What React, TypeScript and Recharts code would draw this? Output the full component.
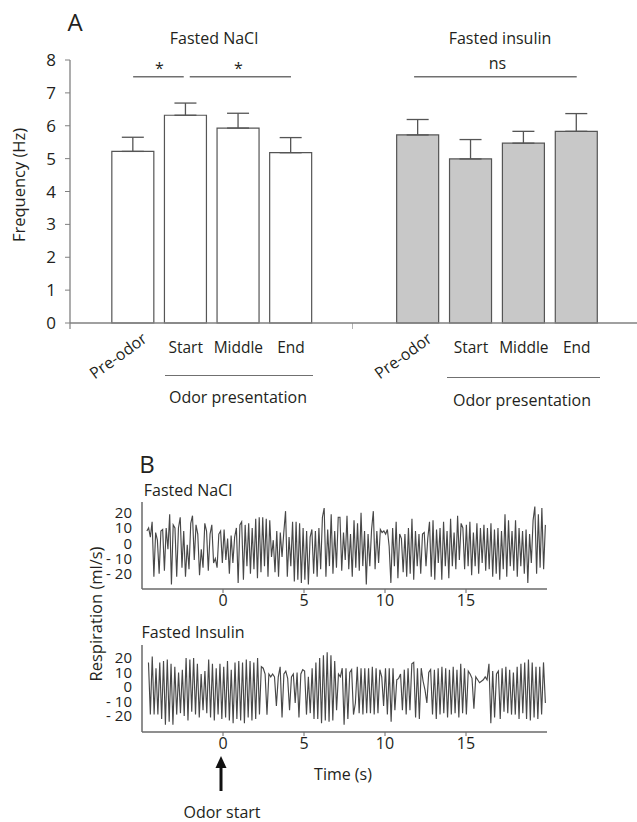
import React from "react"
import {
    BarChart,
    Bar,
    XAxis,
    YAxis,
    ErrorBar,
    ReferenceLine,
    LineChart,
    Line,
} from "recharts"

// panel A: breathing frequency per phase
const phases = ["Pre-odor", "Start", "Middle", "End"]
const naclMean = [5.22, 6.32, 5.93, 5.18]
const naclErr = [0.43, 0.37, 0.45, 0.46]
const insulinMean = [5.72, 4.99, 5.47, 5.83]
const insulinErr = [0.47, 0.59, 0.36, 0.54]
const freqTicks = [0, 1, 2, 3, 4, 5, 6, 7, 8]
const sigLevel = 7.49

// panel B: respiration traces (ml/s), read as successive peaks / troughs
const timeTicks = [0, 5, 10, 15]
const flowTicks = [20, 10, 0, -10, -20]
const naclSpan = [-4.7, 19.9]
const insulinSpan = [-4.6, 19.9]

const naclTrace = [
    8, 10, 4, 14, -22, 7, 2, -20, 8, 9,
    -18, 10, -4, 19, -27, 12, 10, -22, 10, 17,
    -16, 8, -22, -1, -17, 13, 18, -11, 12, 6,
    -21, -4, -16, 13, 8, -18, 6, 12, -13, -10,
    -16, 6, 8, -13, 9, -11, 3, -20, 5, -13,
    4, 10, -26, 12, 14, -24, 12, -15, 13, -20,
    10, -17, 16, -23, 17, -19, 17, -15, 16, -22,
    15, -9, 2, -19, 8, -22, 7, -9, 7, 21,
    -22, 4, -15, 14, -25, 14, -24, 13, -26, 10,
    -24, 8, -27, 4, 9, -20, 8, -22, 10, -17,
    17, 23, -22, 9, -15, 19, -20, 8, -16, 17,
    17, -18, 7, -11, 18, -17, 6, -22, 15, -16,
    13, -18, 20, -15, 8, -27, 6, -15, 9, 21,
    -17, 8, -13, 9, 7, 8, 6, 9, -2, -26,
    10, -15, 14, -23, 6, 3, -19, 6, -22, 10,
    -20, 16, -24, 8, -15, 6, -20, 6, 7, -15,
    3, 14, -22, 15, -24, 9, -13, 10, -24, 14,
    -15, 8, -23, 16, -15, 7, -17, 18, -11, 13,
    10, -17, 12, -15, 14, -21, 7, -15, 13, -20,
    10, -13, 12, -18, 10, -17, 13, -22, 9, -20,
    10, -24, 8, -17, 19, -22, 15, -15, 8, -18,
    15, -22, 10, -15, 8, -20, 9, -26, 6, -13,
    15, 24, -20, 19, -16, 23, -17, 12,
]

const insulinTrace = [
    17, -19, 21, -19, 13, -19, 17, -22, 18, -26,
    19, -24, 16, -26, 14, -19, 10, -18, 12, -20,
    20, -23, 19, -17, 20, -19, 16, -21, 9, -16,
    11, -18, 19, -21, 16, -23, 13, -19, 16, -22,
    14, -21, 18, -23, 12, -25, 17, -22, 18, -23,
    17, -25, 19, -21, 18, -23, 17, -22, 20, -19,
    14, 13, 9, -19, 9, 7, 9, 7, -13, 7,
    14, -21, 9, 11, 6, -16, 7, 9, -11, 10,
    -21, 9, 12, 11, -19, 7, -18, 13, -22, 17,
    -22, 20, -25, 22, -23, 24, -24, 22, -23, 18,
    -16, 9, 7, 13, -26, 13, -22, 10, 12, -19,
    -11, 14, -18, 13, -19, 13, -18, 13, -18, 14,
    -19, 13, -18, 12, 7, -13, 13, -19, 13, -24,
    13, -16, 5, 6, 9, -16, 12, -19, 13, -16,
    16, 17, -21, 13, -22, 13, 4, -2, -11, 10,
    12, -19, 12, -22, 13, -19, 14, -18, 13, -21,
    12, -19, 14, -18, 12, -21, 16, -18, 13, -19,
    11, 9, 6, -15, 7, 5, 3, 4, 5, 7,
    5, 16, -25, 11, -21, 9, 11, -22, 13, -17,
    14, -18, 12, -19, 10, -19, 14, -22, 16, -18,
    17, -22, 19, -23, 17, -21, 14, -22, 14, -19,
    17, -11,
]

const font = "'Open Sans', 'DejaVu Sans', sans-serif"
const ink = "#231f20"
const axisGray = "#808080"
const barStroke = "#555555"

const toBars = (means: number[], errs: number[]) =>
    phases.map((phase, i) => ({
        slot: i,
        phase,
        mean: means[i],
        err: [0, errs[i]],
    }))

// evenly spaced sample times across the recorded span
const toTrace = (values: number[], span: number[]) =>
    values.map((v, i) => ({
        t: span[0] + (i * (span[1] - span[0])) / (values.length - 1),
        v,
    }))

function PhaseTick(props: any) {
    const { x, y, payload } = props
    const i = payload.value
    // the group edge gets a small tick mark instead of a label
    if (i < 0) {
        return <line x1={x} y1={y} x2={x} y2={y + 6} stroke={axisGray} strokeWidth={1.2} />
    }
    const name = phases[i]
    if (name === "Pre-odor") {
        const ax = x + 15
        const ay = y + 18
        return (
            <text
                x={ax}
                y={ay}
                textAnchor="end"
                fontSize={16}
                fill={ink}
                fontFamily={font}
                transform={`rotate(-36, ${ax}, ${ay})`}
            >
                Pre-odor
            </text>
        )
    }
    return (
        <text
            x={x}
            y={y + 30}
            textAnchor="middle"
            fontSize={15.5}
            fill={ink}
            fontFamily={font}
        >
            {name}
        </text>
    )
}

const sigLine = (trimLeft: number, trimRight: number) => (p: any) => (
    <line
        x1={p.x1 + trimLeft}
        y1={p.y1}
        x2={p.x2 - trimRight}
        y2={p.y2}
        stroke="#707070"
        strokeWidth={1.3}
    />
)

const sigLabel = (value: string, offset: number) => ({
    value,
    position: "top" as const,
    offset,
    fontSize: 16,
    fill: ink,
    fontFamily: font,
})

function GroupChart({
    data,
    fill,
    width,
    marginLeft,
    domain,
    showY,
    children,
}: {
    data: any[]
    fill: string
    width: number
    marginLeft: number
    domain: number[]
    showY: boolean
    children?: React.ReactNode
}) {
    return (
        <BarChart
            width={width}
            height={420}
            data={data}
            margin={{ top: 60, right: 0, bottom: 67, left: marginLeft }}
            barSize={42}
        >
            <XAxis
                dataKey="slot"
                type="number"
                domain={domain}
                allowDataOverflow
                ticks={[domain[0], 0, 1, 2, 3]}
                interval={0}
                height={30}
                tickLine={false}
                tickSize={0}
                tickMargin={0}
                axisLine={{ stroke: axisGray, strokeWidth: 1.3 }}
                tick={<PhaseTick />}
            />
            {showY ? (
                <YAxis
                    domain={[0, 8]}
                    ticks={freqTicks}
                    interval={0}
                    width={30}
                    tickSize={5}
                    tickMargin={9}
                    axisLine={{ stroke: axisGray, strokeWidth: 1.3 }}
                    tickLine={{ stroke: axisGray }}
                    tick={{ fontSize: 17, fill: ink, fontFamily: font }}
                />
            ) : (
                <YAxis hide domain={[0, 8]} />
            )}
            <Bar
                dataKey="mean"
                fill={fill}
                stroke={barStroke}
                strokeWidth={1.2}
                isAnimationActive={false}
            >
                <ErrorBar
                    dataKey="err"
                    direction="y"
                    width={11}
                    stroke={barStroke}
                    strokeWidth={1.3}
                />
            </Bar>
            {children}
        </BarChart>
    )
}

function TraceChart({
    data,
    domain,
}: {
    data: { t: number; v: number }[]
    domain: number[]
}) {
    return (
        <LineChart
            width={447}
            height={124}
            data={data}
            margin={{ top: 12, right: 0, bottom: 0, left: 0 }}
        >
            <XAxis
                dataKey="t"
                type="number"
                domain={[-5, 20]}
                allowDataOverflow
                ticks={timeTicks}
                interval={0}
                height={25}
                tickSize={4}
                tickMargin={2}
                axisLine={{ stroke: "#6a6a6a", strokeWidth: 1.5 }}
                tickLine={{ stroke: "#6a6a6a" }}
                tick={{ fontSize: 16, fill: ink, fontFamily: font }}
            />
            <XAxis
                xAxisId="top"
                orientation="top"
                type="number"
                domain={[-5, 20]}
                allowDataOverflow
                height={0}
                tick={false}
                tickLine={false}
                axisLine={{ stroke: "#6a6a6a", strokeWidth: 1.5 }}
            />
            <YAxis
                domain={domain}
                allowDataOverflow
                ticks={flowTicks}
                interval={0}
                width={42}
                tickLine={false}
                tickMargin={4}
                tickFormatter={(v: number) => (v < 0 ? `- ${-v}` : `${v}`)}
                axisLine={{ stroke: "#6a6a6a", strokeWidth: 1.5 }}
                tick={{ fontSize: 15, fill: ink, fontFamily: font }}
            />
            <YAxis
                yAxisId="right"
                orientation="right"
                domain={domain}
                width={0}
                tick={false}
                tickLine={false}
                axisLine={{ stroke: "#6a6a6a", strokeWidth: 1.5 }}
            />
            <Line
                dataKey="v"
                type="linear"
                dot={false}
                stroke="#484848"
                strokeWidth={1.15}
                isAnimationActive={false}
            />
        </LineChart>
    )
}

const abs = (left: number, top: number, extra: React.CSSProperties = {}): React.CSSProperties => ({
    position: "absolute",
    left,
    top,
    ...extra,
})

const centered = (x: number, y: number, size: number, extra: React.CSSProperties = {}): React.CSSProperties => ({
    position: "absolute",
    left: x,
    top: y,
    transform: "translate(-50%, -50%)",
    fontSize: size,
    whiteSpace: "nowrap",
    lineHeight: 1,
    ...extra,
})

export default function App() {
    const naclBars = toBars(naclMean, naclErr)
    const insulinBars = toBars(insulinMean, insulinErr)

    return (
        <div
            style={{
                position: "absolute",
                left: 0,
                top: 0,
                width: 637,
                height: 822,
                background: "#fff",
                fontFamily: font,
                color: ink,
                overflow: "hidden",
            }}
        >
            {/* panel A */}
            <div style={centered(75, 22, 24)}>A</div>
            <div style={centered(214, 38, 16)}>Fasted NaCl</div>
            <div style={centered(500, 38, 16)}>Fasted insulin</div>
            <div style={centered(19, 185, 16.5, { transform: "translate(-50%, -50%) rotate(-90deg)" })}>
                Frequency (Hz)
            </div>

            <div style={abs(0, 0)}>
                <GroupChart
                    data={naclBars}
                    fill="#ffffff"
                    width={352}
                    marginLeft={40}
                    domain={[-1.2, 4.16]}
                    showY
                >
                    <ReferenceLine
                        segment={[
                            { x: 0, y: sigLevel },
                            { x: 1, y: sigLevel },
                        ]}
                        shape={sigLine(0, 2)}
                        label={sigLabel("*", 3)}
                    />
                    <ReferenceLine
                        segment={[
                            { x: 1, y: sigLevel },
                            { x: 3, y: sigLevel },
                        ]}
                        shape={sigLine(4, 0)}
                        label={sigLabel("*", 3)}
                    />
                </GroupChart>
            </div>

            <div style={abs(352, 0)}>
                <GroupChart
                    data={insulinBars}
                    fill="#c8c8c8"
                    width={285}
                    marginLeft={0}
                    domain={[-1.25, 4.14]}
                    showY={false}
                >
                    <ReferenceLine
                        segment={[
                            { x: 0, y: sigLevel },
                            { x: 3, y: sigLevel },
                        ]}
                        shape={sigLine(-4, 0)}
                        label={sigLabel("ns", 8)}
                    />
                </GroupChart>
            </div>

            <div style={abs(165, 375, { width: 148, borderTop: "1.3px solid #707070" })} />
            <div style={centered(238, 397, 16)}>Odor presentation</div>
            <div style={abs(447, 377, { width: 153, borderTop: "1.3px solid #707070" })} />
            <div style={centered(522, 400, 16)}>Odor presentation</div>

            {/* panel B */}
            <div style={centered(147, 464, 24)}>B</div>
            <div style={centered(188, 490, 16)}>Fasted NaCl</div>
            <div style={centered(193, 632, 16)}>Fasted Insulin</div>
            <div style={centered(96, 614, 16.5, { transform: "translate(-50%, -50%) rotate(-90deg)" })}>
                Respiration (ml/s)
            </div>

            <div style={abs(100, 490)}>
                <TraceChart data={toTrace(naclTrace, naclSpan)} domain={[-30, 27]} />
            </div>
            <div style={abs(100, 633)}>
                <TraceChart data={toTrace(insulinTrace, insulinSpan)} domain={[-31, 29]} />
            </div>

            <div style={centered(343, 774, 16)}>Time (s)</div>
            <svg style={abs(211, 756)} width={20} height={36}>
                <line x1={10} y1={35} x2={10} y2={9} stroke="#111" strokeWidth={3} />
                <polygon points="10,0 4.5,12 15.5,12" fill="#111" />
            </svg>
            <div style={centered(222, 812, 16)}>Odor start</div>
        </div>
    )
}
